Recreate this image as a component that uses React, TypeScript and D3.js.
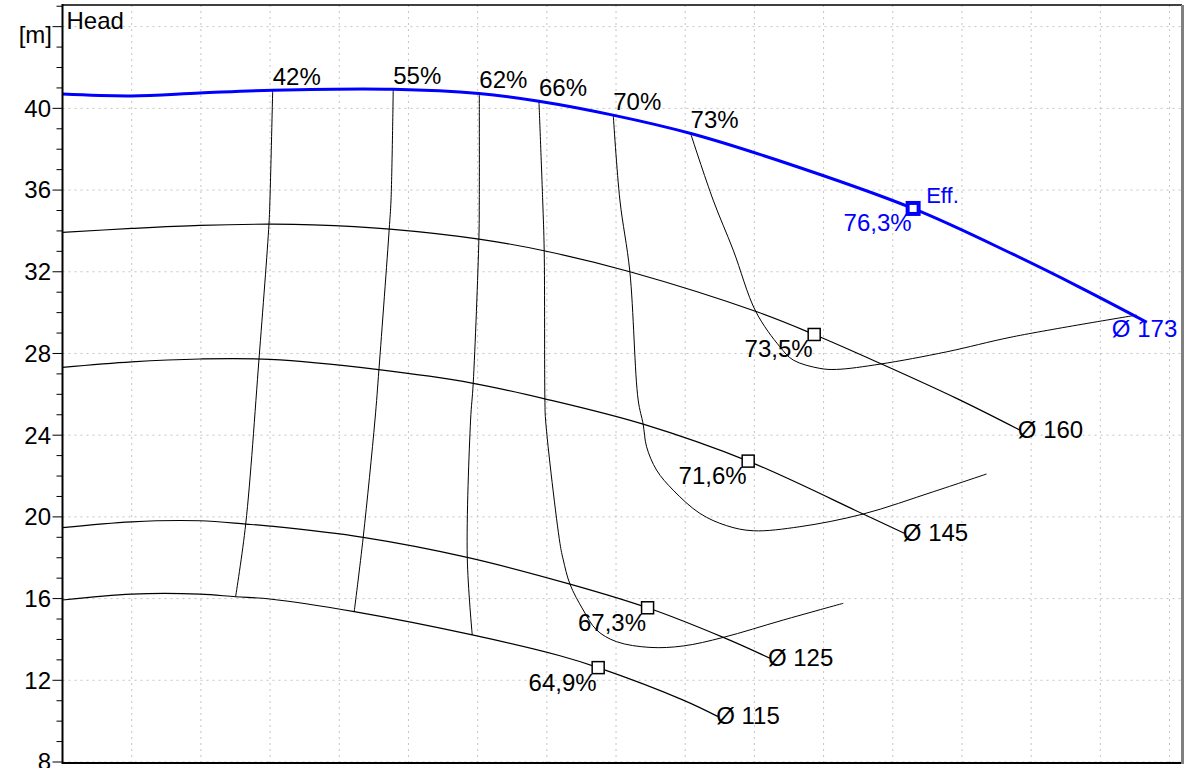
import React from "react";
import * as d3 from "d3";

// ---- data (flow Q in m³/h, head H in m) ----
const yTicksMajor = [8, 12, 16, 20, 24, 28, 32, 36, 40, 44];
const xGrid = [5, 10, 15, 20, 25, 30, 35, 40, 45, 50, 55, 60, 65, 70, 75, 80];

const diameterLabels = ["Ø 173", "Ø 160", "Ø 145", "Ø 125", "Ø 115"];

const q173 = [0, 4.95, 9.93, 15.19, 23.88, 30.09, 34.43, 39.78, 45.41, 51.63, 61.45, 68.68, 73.52, 78.36];
const h173 = [40.7, 40.61, 40.75, 40.89, 40.94, 40.73, 40.35, 39.67, 38.77, 37.47, 35.1, 32.86, 31.24, 29.53];

const q160 = [0, 5.0, 9.93, 14.92, 18.1, 23.66, 30.09, 34.79, 41.0, 50.18, 54.32, 59.07, 64.61, 69.18];
const h160 = [33.93, 34.12, 34.27, 34.33, 34.3, 34.09, 33.6, 33.03, 32.0, 30.04, 28.93, 27.52, 25.8, 24.25];

const q145 = [0, 5.0, 9.93, 14.99, 22.7, 29.68, 34.86, 41.96, 49.55, 57.86, 60.87];
const h145 = [27.32, 27.59, 27.73, 27.71, 27.22, 26.54, 25.78, 24.54, 22.73, 20.14, 19.19];

const q125 = [0, 5.0, 9.93, 13.24, 14.99, 21.73, 29.25, 36.67, 42.28, 47.75, 51.12];
const h125 = [19.47, 19.76, 19.81, 19.65, 19.55, 19.0, 18.02, 16.71, 15.55, 14.1, 13.08];

const q115 = [0, 5.0, 9.93, 12.51, 14.99, 21.08, 29.61, 35.95, 38.71, 44.86, 47.38];
const h115 = [15.93, 16.22, 16.22, 16.09, 15.98, 15.36, 14.22, 13.2, 12.62, 11.03, 10.22];

const effLabels = ["42%", "55%", "62%", "66%", "70%", "73%"];
const e42q = [15.19, 14.99, 14.92, 14.2, 13.24, 12.51];
const e42h = [40.89, 35.51, 34.33, 27.73, 19.65, 16.09];
const e55q = [23.9, 23.74, 23.61, 22.87, 22.58, 21.73, 21.08];
const e55h = [40.94, 35.51, 34.09, 27.24, 24.74, 19.0, 15.36];
const e62q = [30.12, 30.12, 30.09, 29.68, 29.49, 29.25, 29.61];
const e62h = [40.73, 35.51, 33.6, 26.54, 24.74, 18.02, 14.22];
const e66q = [34.43, 34.7, 34.81, 34.86, 34.91, 35.95, 36.19, 36.67, 37.63, 38.6, 40.04, 42.45, 44.85, 47.75, 52.08, 56.42];
const e66h = [40.35, 35.51, 33.03, 25.78, 24.74, 18.7, 17.89, 16.71, 15.44, 14.46, 13.89, 13.61, 13.68, 14.1, 14.95, 15.77];
const e70q = [39.8, 40.28, 41.0, 41.6, 41.96, 42.21, 42.93, 44.13, 46.06, 47.99, 49.91, 53.29, 57.86, 62.92, 66.78];
const e70h = [39.67, 35.51, 32.0, 25.72, 24.54, 23.43, 22.29, 21.31, 20.17, 19.57, 19.32, 19.52, 20.14, 21.23, 22.1];
const e73q = [45.39, 47.02, 48.47, 50.11, 51.84, 52.8, 54.73, 55.94, 59.09, 63.89, 68.7, 77.62];
const e73h = [38.77, 35.51, 33.06, 30.04, 28.33, 27.68, 27.27, 27.22, 27.48, 28.08, 28.82, 29.88];

const bepQ = [61.47, 54.32, 49.55, 42.28, 38.71];
const bepH = [35.1, 28.93, 22.73, 15.55, 12.62];
const bepLabels = ["76,3%", "73,5%", "71,6%", "67,3%", "64,9%"];

const W = 1188;
const H = 768;
const L = 62.5, R = 1182, T = 5, B = 762;
const BLUE = "#0000ff";
const FONT = "'Liberation Sans', Arial, sans-serif";
const FS = 24;

export default function App() {
  const x = d3.scaleLinear().domain([0, 80.9]).range([L, R]);
  const y = d3.scaleLinear().domain([8, 45.06]).range([B, T]);
  const line = d3
    .line<[number, number]>()
    .x((d) => x(d[0]))
    .y((d) => y(d[1]))
    .curve(d3.curveCatmullRom.alpha(0.5));
  const zip = (qs: number[], hs: number[]) => qs.map((q, i) => [q, hs[i]] as [number, number]);

  const curves = [zip(q173, h173), zip(q160, h160), zip(q145, h145), zip(q125, h125), zip(q115, h115)];
  const effLines = [zip(e42q, e42h), zip(e55q, e55h), zip(e62q, e62h), zip(e66q, e66h), zip(e70q, e70h), zip(e73q, e73h)];
  const minorTicks = d3.range(8, 46, 1);

  return (
    <svg
      width={W}
      height={H}
      style={{ position: "absolute", left: 0, top: 0, background: "#fff" }}
      fontFamily={FONT}
    >
      <rect x={0} y={0} width={W} height={H} fill="#fff" />
      {/* grid */}
      {xGrid.map((q) => (
        <line key={"gx" + q} x1={x(q)} x2={x(q)} y1={T} y2={B} stroke="#c4c4c4" strokeWidth={1} strokeDasharray="2,4" />
      ))}
      {yTicksMajor.map((h) => (
        <line key={"gy" + h} x1={L} x2={R} y1={y(h)} y2={y(h)} stroke="#c4c4c4" strokeWidth={1} strokeDasharray="2,4" />
      ))}

      {/* iso efficiency lines */}
      {effLines.map((pts, i) => (
        <g key={"e" + i}>
          <path d={line(pts) || ""} fill="none" stroke="#000" strokeWidth={1} />
          <text x={x(pts[0][0])} y={y(pts[0][1]) - 5} fontSize={FS} fill="#000">
            {effLabels[i]}
          </text>
        </g>
      ))}

      {/* diameter curves */}
      {curves.map((pts, i) => {
        const last = pts[pts.length - 1];
        const blue = i === 0;
        return (
          <g key={"c" + i}>
            <path d={line(pts) || ""} fill="none" stroke={blue ? BLUE : "#000"} strokeWidth={blue ? 3 : 1.2} />
            <text
              x={x(last[0]) + (blue ? -35 : -2)}
              y={y(last[1]) + (blue ? 15 : 7.5)}
              fontSize={FS}
              fill={blue ? BLUE : "#000"}
            >
              {diameterLabels[i]}
            </text>
          </g>
        );
      })}

      {/* best efficiency points */}
      {bepQ.map((q, i) => {
        const cx = x(q);
        const cy = y(bepH[i]);
        const blue = i === 0;
        return (
          <g key={"b" + i}>
            {blue ? (
              <rect x={cx - 5.5} y={cy - 5.5} width={11} height={11} fill="#fff" stroke={BLUE} strokeWidth={4} />
            ) : (
              <rect x={cx - 6} y={cy - 6} width={12} height={12} fill="#fff" stroke="#000" strokeWidth={1.5} />
            )}
            <text x={cx - 1.5} y={cy + 23} fontSize={FS} textAnchor="end" fill={blue ? BLUE : "#000"}>
              {bepLabels[i]}
            </text>
            {blue && (
              <text x={cx + 13} y={cy - 5} fontSize={22} fill={BLUE}>
                Eff.
              </text>
            )}
          </g>
        );
      })}

      {/* frame */}
      <line x1={L} x2={R} y1={T} y2={T} stroke="#000" strokeWidth={1.5} />
      <line x1={L} x2={R} y1={B + 1} y2={B + 1} stroke="#000" strokeWidth={2} />
      <line x1={R + 0.5} x2={R + 0.5} y1={T} y2={B + 2} stroke="#808080" strokeWidth={3} />
      <line x1={L} x2={L} y1={T - 1} y2={B + 2} stroke="#000" strokeWidth={2} />

      {/* y ticks */}
      {minorTicks.map((h) => (
        <line key={"mt" + h} x1={h % 4 === 0 ? L - 10 : L - 6} x2={L} y1={y(h)} y2={y(h)} stroke="#000" strokeWidth={1} />
      ))}
      {yTicksMajor
        .filter((h) => h !== 44)
        .map((h) => (
          <text key={"yl" + h} x={51} y={y(h)} dy="0.35em" fontSize={FS} textAnchor="end" fill="#000">
            {h}
          </text>
        ))}
      <text x={52} y={43.3} fontSize={FS} textAnchor="end" fill="#000">
        [m]
      </text>
      <text x={66.5} y={29.3} fontSize={FS} fill="#000">
        Head
      </text>
    </svg>
  );
}
